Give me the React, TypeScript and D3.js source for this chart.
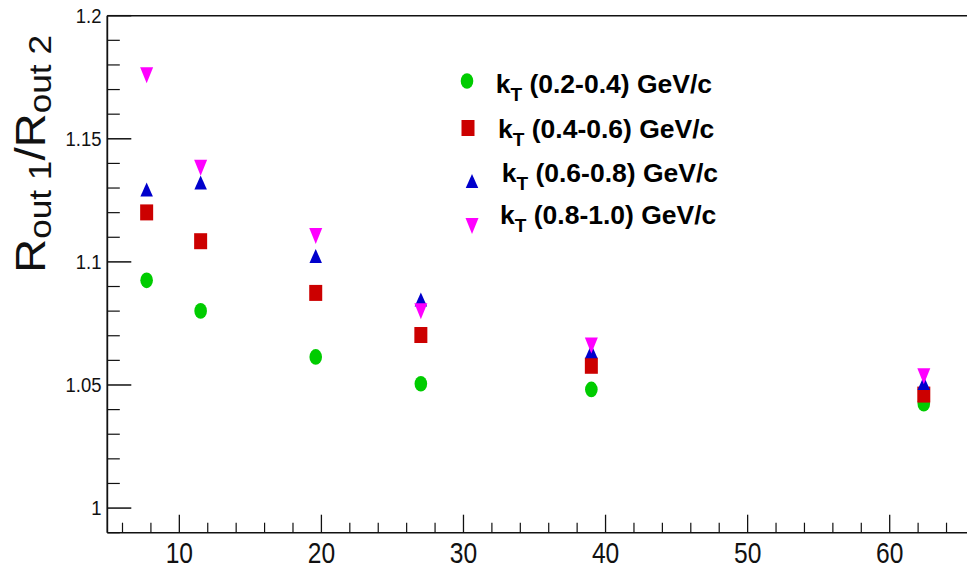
import React from "react";
import * as d3 from "d3";

const energies = [7.7, 11.5, 19.6, 27, 39, 62.4];
const kt1 = [1.0925, 1.0801, 1.0614, 1.0505, 1.0482, 1.0424];
const kt2 = [1.1201, 1.1084, 1.0874, 1.0703, 1.0578, 1.0461];
const kt3 = [1.1294, 1.1322, 1.1024, 1.0847, 1.0637, 1.0508];
const kt4 = [1.1758, 1.1382, 1.1105, 1.0799, 1.066, 1.0535];
const seriesLabels = ["(0.2-0.4) GeV/c", "(0.4-0.6) GeV/c", "(0.6-0.8) GeV/c", "(0.8-1.0) GeV/c"];
const seriesColors = ["#00cc00", "#cc0000", "#0000cc", "#ff00ff"];
const seriesShapes = ["circle", "square", "up", "down"];
const xMajorTicks = [10, 20, 30, 40, 50, 60];
const yMajorTicks = [1, 1.05, 1.1, 1.15, 1.2];
const yTickLabels = ["1", "1.05", "1.1", "1.15", "1.2"];

const W = 967;
const H = 573;
const FONT = "'Liberation Sans', Arial, Helvetica, sans-serif";

const x = d3.scaleLinear().domain([4.93, 60]).range([107.3, 889.7]);
const y = d3.scaleLinear().domain([0.99, 1.2]).range([532.7, 15.7]);

function Marker({ shape, cx, cy, color }: { shape: string; cx: number; cy: number; color: string }) {
  const w = 13;
  const h = 16;
  if (shape === "circle") return <ellipse cx={cx} cy={cy} rx={6.3} ry={7.8} fill={color} />;
  if (shape === "square") return <rect x={cx - w / 2} y={cy - h / 2} width={w} height={h} fill={color} />;
  if (shape === "up") {
    const hh = 14, ww = 12.5;
    return <path d={`M${cx},${cy - hh / 2}L${cx + ww / 2},${cy + hh / 2}L${cx - ww / 2},${cy + hh / 2}Z`} fill={color} />;
  }
  return <path d={`M${cx - w / 2},${cy - h / 2}L${cx + w / 2},${cy - h / 2}L${cx},${cy + h / 2}Z`} fill={color} />;
}

export default function App() {
  const series = [kt1, kt2, kt3, kt4];
  const yMinor = d3.range(0, 22).map((i) => 0.99 + i * 0.01).filter((v) => !yMajorTicks.some((m) => Math.abs(m - v) < 1e-6));
  const xMinor = d3.range(6, 68, 2).filter((v) => v % 10 !== 0);
  const legendRows = [
    { mx: 467, my: 81, tx: 495.7, ty: 93 },
    { mx: 468, my: 128, tx: 498, ty: 137.5 },
    { mx: 472, my: 181, tx: 501.7, ty: 182 },
    { mx: 472, my: 226, tx: 500, ty: 224 },
  ];
  return (
    <svg width={W} height={H} style={{ position: "absolute", left: 0, top: 0, background: "#fff" }} fontFamily={FONT}>
      <rect width={W} height={H} fill="#fff" />
      <line x1={x.range()[0]} x2={W} y1={y(1.2)} y2={y(1.2)} stroke="#111" strokeWidth={1.4} />
      <line x1={107.3} x2={107.3} y1={y(1.2)} y2={y(0.99)} stroke="#111" strokeWidth={1.8} />
      <line x1={107.3} x2={W} y1={y(0.99)} y2={y(0.99)} stroke="#111" strokeWidth={1.6} />
      {yMajorTicks.map((v, i) => (
        <g key={"ym" + i}>
          <line x1={107.3} x2={107.3 + 24} y1={y(v)} y2={y(v)} stroke="#111" strokeWidth={1.5} />
          <text
            transform={`translate(101.5,${y(v)}) scale(0.9,1)`}
            textAnchor="end"
            dominantBaseline="central"
            fontSize={20.5}
            fill="#111"
          >
            {yTickLabels[i]}
          </text>
        </g>
      ))}
      {yMinor.map((v, i) => (
        <line key={"yn" + i} x1={107.3} x2={107.3 + 12.5} y1={y(v)} y2={y(v)} stroke="#111" strokeWidth={1.2} />
      ))}
      {xMajorTicks.map((v, i) => (
        <g key={"xm" + i}>
          <line x1={x(v)} x2={x(v)} y1={y(0.99)} y2={y(0.99) - 18} stroke="#111" strokeWidth={1.3} />
          <text transform={`translate(${x(v)},563) scale(0.82,1)`} textAnchor="middle" fontSize={30} fill="#111">
            {String(v)}
          </text>
        </g>
      ))}
      {xMinor.map((v, i) => (
        <line key={"xn" + i} x1={x(v)} x2={x(v)} y1={y(0.99)} y2={y(0.99) - 10} stroke="#111" strokeWidth={1.2} />
      ))}
      <text transform="translate(45,154) rotate(-90) scale(1.1,1)" textAnchor="middle" fontSize={43} fill="#111">
        R<tspan fontSize={32} dy={6}>out 1</tspan>
        <tspan dy={-6}>/R</tspan>
        <tspan fontSize={32} dy={6}>out 2</tspan>
      </text>
      {series.map((s, si) => (
        <g key={"s" + si}>
          {s.map((v, i) => (
            <Marker key={i} shape={seriesShapes[si]} cx={x(energies[i])} cy={y(v)} color={seriesColors[si]} />
          ))}
        </g>
      ))}
      {legendRows.map((r, i) => (
        <g key={"l" + i}>
          <Marker shape={seriesShapes[i]} cx={r.mx} cy={r.my} color={seriesColors[i]} />
          <text x={r.tx} y={r.ty} fontSize={26.5} fontWeight="bold" fill="#000">
            k<tspan fontSize={19} dy={8}>T</tspan>
            <tspan dy={-8}>{" " + seriesLabels[i]}</tspan>
          </text>
        </g>
      ))}
    </svg>
  );
}
